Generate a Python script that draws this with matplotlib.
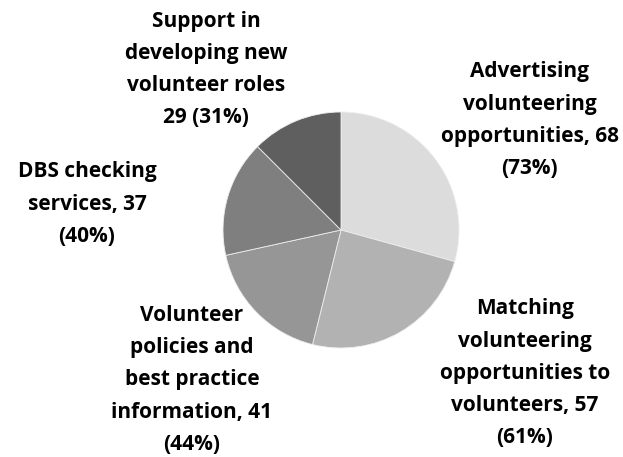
import matplotlib
matplotlib.use("Agg")
import matplotlib.pyplot as plt

labels = ["Advertising\nvolunteering\nopportunities, 68\n(73%)",
          "Matching\nvolunteering\nopportunities to\nvolunteers, 57\n(61%)",
          "Volunteer\npolicies and\nbest practice\ninformation, 41\n(44%)",
          "DBS checking\nservices, 37\n(40%)",
          "Support in\ndeveloping new\nvolunteer roles\n29 (31%)"]
values = [68, 57, 41, 37, 29]
colors = ["#DCDCDC", "#B2B2B2", "#969696", "#7F7F7F", "#5F5F5F"]

# label centres in pie-radius units
label_pos = [(1.598, 0.930), (1.559, -1.215), (-1.263, -1.271),
             (-2.153, 0.220), (-1.144, 1.360)]

fig = plt.figure(figsize=(6.23, 4.57), dpi=100)
ax = fig.add_axes([0, 0, 1, 1])

ax.pie(values, colors=colors, startangle=90, counterclock=False, radius=1,
       wedgeprops=dict(edgecolor="#EEEEEE", linewidth=0.6))

for txt, (x, y) in zip(labels, label_pos):
    ax.text(x, y, txt, ha="center", va="center", fontsize=15,
            fontweight="bold", family="Open Sans", linespacing=1.7,
            color="black")

ax.set_xlim(-341 / 118, 282 / 118)
ax.set_ylim(-227 / 118, 230 / 118)
ax.set_aspect("auto")
ax.axis("off")

fig.savefig("out.png", dpi=100, facecolor="white")
